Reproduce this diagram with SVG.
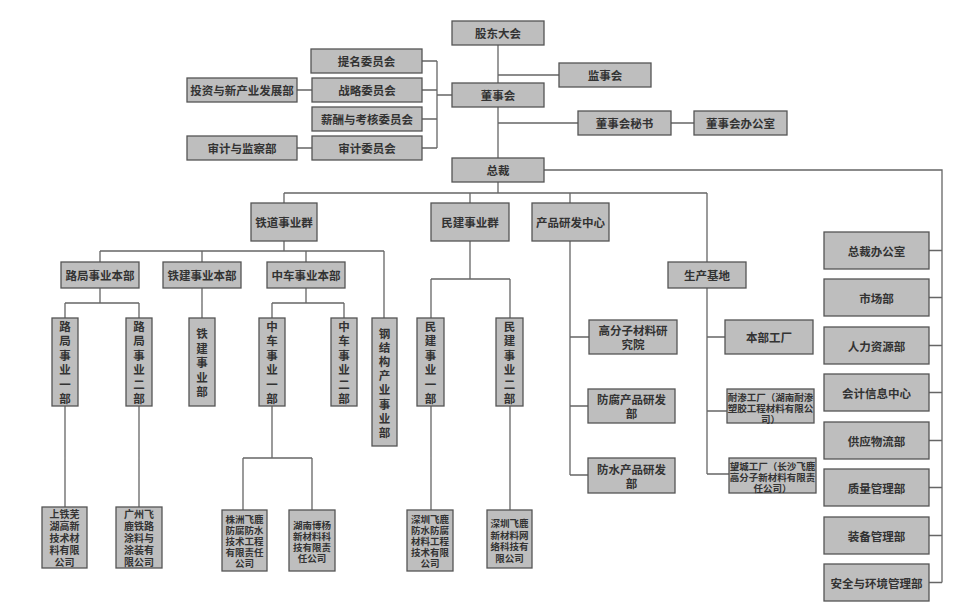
<svg xmlns="http://www.w3.org/2000/svg" width="973" height="612" viewBox="0 0 973 612">
<style>
.b{fill:#bebebe;stroke:#555;stroke-width:1.3}
.t{font-family:"Noto Sans CJK SC","Noto Sans",sans-serif;font-size:11.5px;font-weight:bold;fill:#333;text-anchor:middle;dominant-baseline:central}
.s{font-size:9.5px}
.m{font-size:10px}
#connectors path{stroke:#666;stroke-width:1.3;fill:none}
</style>
<rect width="973" height="612" fill="#fff"/>
<g id="connectors">
<path d="M498 45V83M498 75H559M498 107V158M498 123H578M671 123H694"/>
<path d="M422 61H437M422 90H437M422 119H437M422 148H437M437 61V148M437 95H452M297 90H312M297 148H312"/>
<path d="M544 170H942V582.5M929 250.5H942M929 297.5H942M929 345.5H942M929 392.5H942M929 440.5H942M929 487.5H942M929 535.5H942M929 582.5H942"/>
<path d="M498 182V193M284 193H707M284 193V203M470 193V203M570 193V203M707 193V262"/>
<path d="M284 241V251M100 251H384M100 251V262M202 251V262M306 251V262M384 251V318"/>
<path d="M100 288V303M65 303H139M65 303V318M139 303V318M202 288V318M306 288V303M272 303H344M272 303V318M344 303V318"/>
<path d="M470 241V279M431 279H510M431 279V318M510 279V318"/>
<path d="M65 406V507M139 406V507M272 406V458M243 458H312M243 458V510M312 458V510M431 406V510M510 406V510"/>
<path d="M570 241V475M570 337H589M570 406H588M570 475H588"/>
<path d="M707 288V474M707 337H725M707 411H727M707 474H729"/>
</g>
<g id="n_gudong"><rect class="b" x="452" y="21" width="92" height="24"/><text class="t" x="498" y="33">股东大会</text></g>
<g id="n_jianshi"><rect class="b" x="559" y="63" width="92" height="24"/><text class="t" x="605" y="75">监事会</text></g>
<g id="n_dongshi"><rect class="b" x="452" y="83" width="92" height="24"/><text class="t" x="498" y="95">董事会</text></g>
<g id="n_mishu"><rect class="b" x="578" y="111" width="93" height="24"/><text class="t" x="624.5" y="123">董事会秘书</text></g>
<g id="n_bangongshi"><rect class="b" x="694" y="111" width="93" height="24"/><text class="t" x="740.5" y="123">董事会办公室</text></g>
<g id="n_zongcai"><rect class="b" x="452" y="158" width="92" height="24"/><text class="t" x="498" y="170">总裁</text></g>
<g id="n_timing"><rect class="b" x="311" y="49" width="111" height="24"/><text class="t" x="366.5" y="61">提名委员会</text></g>
<g id="n_zhanlue"><rect class="b" x="312" y="78" width="110" height="24"/><text class="t" x="367" y="90">战略委员会</text></g>
<g id="n_xinchou"><rect class="b" x="312" y="107" width="110" height="24"/><text class="t" x="367" y="119">薪酬与考核委员会</text></g>
<g id="n_shenji"><rect class="b" x="312" y="136" width="110" height="24"/><text class="t" x="367" y="148">审计委员会</text></g>
<g id="n_touzi"><rect class="b" x="187" y="78" width="110" height="24"/><text class="t" x="242" y="90">投资与新产业发展部</text></g>
<g id="n_shenjijiancha"><rect class="b" x="187" y="136" width="110" height="24"/><text class="t" x="242" y="148">审计与监察部</text></g>
<g id="n_r1"><rect class="b" x="824" y="232" width="105" height="37"/><text class="t" x="876.5" y="250.5">总裁办公室</text></g>
<g id="n_r2"><rect class="b" x="824" y="279" width="105" height="37"/><text class="t" x="876.5" y="297.5">市场部</text></g>
<g id="n_r3"><rect class="b" x="824" y="327" width="105" height="37"/><text class="t" x="876.5" y="345.5">人力资源部</text></g>
<g id="n_r4"><rect class="b" x="824" y="374" width="105" height="37"/><text class="t" x="876.5" y="392.5">会计信息中心</text></g>
<g id="n_r5"><rect class="b" x="824" y="422" width="105" height="37"/><text class="t" x="876.5" y="440.5">供应物流部</text></g>
<g id="n_r6"><rect class="b" x="824" y="469" width="105" height="37"/><text class="t" x="876.5" y="487.5">质量管理部</text></g>
<g id="n_r7"><rect class="b" x="824" y="517" width="105" height="37"/><text class="t" x="876.5" y="535.5">装备管理部</text></g>
<g id="n_r8"><rect class="b" x="824" y="564" width="105" height="37"/><text class="t" x="876.5" y="582.5">安全与环境管理部</text></g>
<g id="n_tiedao"><rect class="b" x="251" y="203" width="66" height="38"/><text class="t" x="284" y="222">铁道事业群</text></g>
<g id="n_minjian"><rect class="b" x="431" y="203" width="78" height="38"/><text class="t" x="470" y="222">民建事业群</text></g>
<g id="n_yanfa"><rect class="b" x="532" y="203" width="77" height="38"/><text class="t" x="570.5" y="222">产品研发中心</text></g>
<g id="n_shengchan"><rect class="b" x="668" y="262" width="78" height="26"/><text class="t" x="707" y="275">生产基地</text></g>
<g id="n_luju"><rect class="b" x="61" y="262" width="78" height="26"/><text class="t" x="100" y="275">路局事业本部</text></g>
<g id="n_tiejian"><rect class="b" x="163" y="262" width="78" height="26"/><text class="t" x="202" y="275">铁建事业本部</text></g>
<g id="n_zhongche"><rect class="b" x="267" y="262" width="78" height="26"/><text class="t" x="306" y="275">中车事业本部</text></g>
<g id="n_luju1"><rect class="b" x="52" y="318" width="26" height="88"/><text class="t" x="65 65 65 65 65 65" y="325.75 340.25 354.75 369.25 383.75 398.25">路局事业一部</text></g>
<g id="n_luju2"><rect class="b" x="126" y="318" width="26" height="88"/><text class="t" x="139 139 139 139 139 139" y="325.75 340.25 354.75 369.25 383.75 398.25">路局事业二部</text></g>
<g id="n_tiejianbu"><rect class="b" x="189" y="318" width="26" height="88"/><text class="t" x="202 202 202 202 202" y="333 347.5 362 376.5 391">铁建事业部</text></g>
<g id="n_zhongche1"><rect class="b" x="259" y="318" width="26" height="88"/><text class="t" x="272 272 272 272 272 272" y="325.75 340.25 354.75 369.25 383.75 398.25">中车事业一部</text></g>
<g id="n_zhongche2"><rect class="b" x="331" y="318" width="26" height="88"/><text class="t" x="344 344 344 344 344 344" y="325.75 340.25 354.75 369.25 383.75 398.25">中车事业二部</text></g>
<g id="n_gangjiegou"><rect class="b" x="372" y="318" width="25" height="128"/><text class="t" x="384.5 384.5 384.5 384.5 384.5 384.5 384.5 384.5" y="332.6 346.8 361 375.2 389.4 403.6 417.8 432">钢结构产业事业部</text></g>
<g id="n_minjian1"><rect class="b" x="417" y="318" width="27" height="88"/><text class="t" x="430.5 430.5 430.5 430.5 430.5 430.5" y="325.75 340.25 354.75 369.25 383.75 398.25">民建事业一部</text></g>
<g id="n_minjian2"><rect class="b" x="496" y="318" width="27" height="88"/><text class="t" x="509.5 509.5 509.5 509.5 509.5 509.5" y="325.75 340.25 354.75 369.25 383.75 398.25">民建事业二部</text></g>
<g id="n_gaofenzi"><rect class="b" x="589" y="320" width="88" height="34"/><text class="t" x="604.25 615.75 627.25 638.75 650.25 661.75 627.25 638.75" y="330 330 330 330 330 330 344 344">高分子材料研究院</text></g>
<g id="n_fangfu"><rect class="b" x="588" y="389" width="87" height="34"/><text class="t" x="602.75 614.25 625.75 637.25 648.75 660.25 631.5" y="399 399 399 399 399 399 413">防腐产品研发部</text></g>
<g id="n_fangshui"><rect class="b" x="588" y="458" width="87" height="35"/><text class="t" x="602.75 614.25 625.75 637.25 648.75 660.25 631.5" y="468.5 468.5 468.5 468.5 468.5 468.5 482.5">防水产品研发部</text></g>
<g id="n_benbu"><rect class="b" x="725" y="320" width="88" height="34"/><text class="t" x="769" y="337">本部工厂</text></g>
<g id="n_naishen"><rect class="b" x="727" y="389" width="87" height="34"/><text class="t s" x="732.5 742 751.5 761 770.5 780 789.5 799 808.5 732.5 742 751.5 761 770.5 780 789.5 799 808.5 765.75 775.25" y="396.5 396.5 396.5 396.5 396.5 396.5 396.5 396.5 396.5 407.5 407.5 407.5 407.5 407.5 407.5 407.5 407.5 407.5 418.5 418.5">耐渗工厂（湖南耐渗塑胶工程材料有限公司）</text></g>
<g id="n_wangcheng"><rect class="b" x="729" y="458" width="87" height="35"/><text class="t s" x="734.5 744 753.5 763 772.5 782 791.5 801 810.5 734.5 744 753.5 763 772.5 782 791.5 801 810.5 758.25 767.75 777.25 786.75" y="465.5 465.5 465.5 465.5 465.5 465.5 465.5 465.5 465.5 476.5 476.5 476.5 476.5 476.5 476.5 476.5 476.5 476.5 487.5 487.5 487.5 487.5">望城工厂（长沙飞鹿高分子新材料有限责任公司）</text></g>
<g id="n_shangtie"><rect class="b" x="42" y="507" width="45" height="61"/><text class="t m" x="54.5 64.5 74.5 54.5 64.5 74.5 54.5 64.5 74.5 54.5 64.5 74.5 59.5 69.5" y="513.5 513.5 513.5 525.5 525.5 525.5 537.5 537.5 537.5 549.5 549.5 549.5 561.5 561.5">上铁芜湖高新技术材料有限公司</text></g>
<g id="n_guangzhou"><rect class="b" x="116" y="507" width="46" height="61"/><text class="t m" x="129 139 149 129 139 149 129 139 149 129 139 149 129 139 149" y="513.5 513.5 513.5 525.5 525.5 525.5 537.5 537.5 537.5 549.5 549.5 549.5 561.5 561.5 561.5">广州飞鹿铁路涂料与涂装有限公司</text></g>
<g id="n_zhuzhou"><rect class="b" x="222" y="510" width="45" height="61"/><text class="t s" x="230.25 239.75 249.25 258.75 230.25 239.75 249.25 258.75 230.25 239.75 249.25 258.75 230.25 239.75 249.25 258.75 239.75 249.25" y="518.5 518.5 518.5 518.5 529.5 529.5 529.5 529.5 540.5 540.5 540.5 540.5 551.5 551.5 551.5 551.5 562.5 562.5">株洲飞鹿防腐防水技术工程有限责任公司</text></g>
<g id="n_boyang"><rect class="b" x="289" y="510" width="46" height="61"/><text class="t s" x="297.75 307.25 316.75 326.25 297.75 307.25 316.75 326.25 297.75 307.25 316.75 326.25 302.5 312 321.5" y="524.5 524.5 524.5 524.5 535.5 535.5 535.5 535.5 546.5 546.5 546.5 546.5 557.5 557.5 557.5">湖南博杨新材料科技有限责任公司</text></g>
<g id="n_shenzhen1"><rect class="b" x="407" y="510" width="46" height="61"/><text class="t s" x="415.75 425.25 434.75 444.25 415.75 425.25 434.75 444.25 415.75 425.25 434.75 444.25 415.75 425.25 434.75 444.25 425.25 434.75" y="518.5 518.5 518.5 518.5 529.5 529.5 529.5 529.5 540.5 540.5 540.5 540.5 551.5 551.5 551.5 551.5 562.5 562.5">深圳飞鹿防水防腐材料工程技术有限公司</text></g>
<g id="n_shenzhen2"><rect class="b" x="487" y="510" width="45" height="58"/><text class="t s" x="495.25 504.75 514.25 523.75 495.25 504.75 514.25 523.75 495.25 504.75 514.25 523.75 500 509.5 519" y="523 523 523 523 534.5 534.5 534.5 534.5 546 546 546 546 557.5 557.5 557.5">深圳飞鹿新材料网络科技有限公司</text></g>
</svg>
